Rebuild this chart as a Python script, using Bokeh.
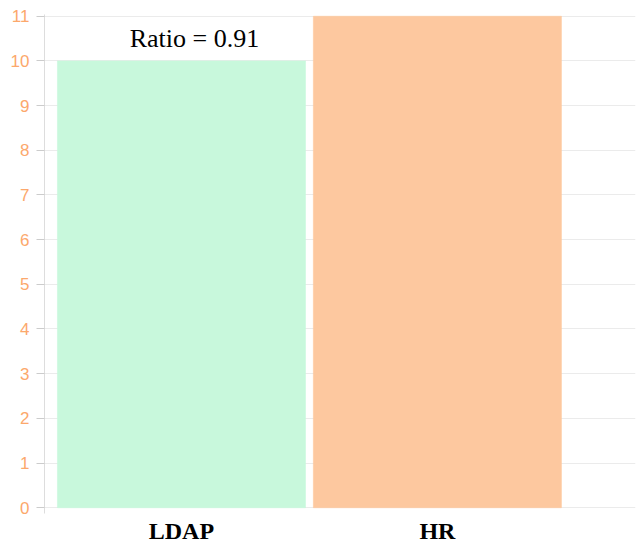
from bokeh.plotting import figure
from bokeh.models import ColumnDataSource, Range1d, FixedTicker
from bokeh.core.properties import value
from bokeh.embed import file_html
from bokeh.resources import INLINE

categories = ["LDAP", "HR"]
values = [10, 11]
colors = ["#c8f8dc", "#fdc89f"]
ratio_label = "Ratio = 0.91"
y_ticks = list(range(0, 12))

xs = list(range(len(categories)))
src = ColumnDataSource(dict(x=xs, top=values, color=colors))

p = figure(width=639, height=546, output_backend="svg", toolbar_location=None,
           x_range=Range1d(-0.535, 1.774), y_range=Range1d(-0.13, 11.04),
           min_border_left=44, min_border_right=4, min_border_top=14, min_border_bottom=33)
p.outline_line_color = None
p.background_fill_color = "white"

p.vbar(x="x", top="top", bottom=0, width=0.969, fill_color="color", line_color="color",
       line_width=1, line_alpha=0.6, source=src)

p.text(x=[xs[0]], y=[values[1] - 0.5], text=[ratio_label], text_align="center",
       text_baseline="middle", text_font=value("Liberation Serif"), text_font_size="26px",
       text_color="black", x_offset=13)

p.xgrid.grid_line_color = None
p.ygrid.grid_line_color = "#ebebeb"
p.ygrid.ticker = FixedTicker(ticks=y_ticks)

p.yaxis.ticker = FixedTicker(ticks=y_ticks)
p.yaxis.major_label_text_color = "#fca86c"
p.yaxis.major_label_text_font = "Liberation Sans"
p.yaxis.major_label_text_font_size = "17px"
p.yaxis.axis_line_color = "#dddddd"
p.yaxis.major_tick_line_color = "#cccccc"
p.yaxis.major_tick_out = 8
p.yaxis.major_tick_in = 0
p.yaxis.minor_tick_line_color = None
p.yaxis.major_label_standoff = 7

p.xaxis.ticker = FixedTicker(ticks=xs)
p.xaxis.major_label_overrides = {i: c for i, c in enumerate(categories)}
p.xaxis.axis_line_color = None
p.xaxis.major_tick_line_color = None
p.xaxis.major_tick_out = 0
p.xaxis.major_tick_in = 0
p.xaxis.minor_tick_line_color = None
p.xaxis.minor_tick_out = 0
p.xaxis.minor_tick_in = 0
p.xaxis.major_label_text_font = "Liberation Serif"
p.xaxis.major_label_text_font_style = "bold"
p.xaxis.major_label_text_font_size = "24px"
p.xaxis.major_label_text_color = "black"
p.xaxis.major_label_standoff = 4

open("out.html", "w").write(file_html(p, INLINE))
